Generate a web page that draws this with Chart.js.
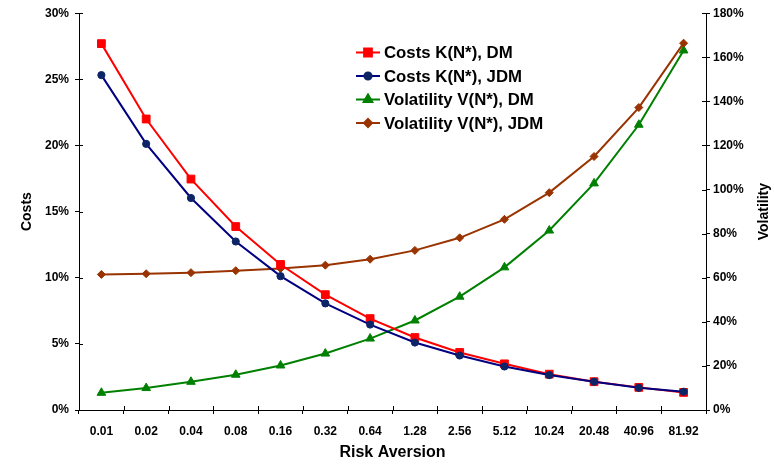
<!DOCTYPE html>
<html>
<head>
<meta charset="utf-8">
<script src="https://cdn.jsdelivr.net/npm/chart.js@4/dist/chart.umd.min.js"></script>
<style>
  html, body { margin: 0; padding: 0; background: #fff; }
  canvas { display: block; }
</style>
</head>
<body>
<canvas id="c" width="774" height="464"></canvas>
<script>
// Risk aversion levels (category axis)
const riskAversion = ['0.01', '0.02', '0.04', '0.08', '0.16', '0.32', '0.64', '1.28', '2.56', '5.12', '10.24', '20.48', '40.96', '81.92'];

// Costs K(N*) in percent (left axis)
const costsDM  = [27.7, 22.0, 17.46, 13.87, 11.0, 8.72, 6.91, 5.48, 4.35, 3.49, 2.71, 2.14, 1.71, 1.33];
const costsJDM = [25.32, 20.12, 16.03, 12.74, 10.12, 8.06, 6.46, 5.10, 4.12, 3.29, 2.64, 2.14, 1.68, 1.38];

// Volatility V(N*) in percent (right axis)
const volDM  = [7.8, 9.95, 12.8, 16.0, 20.2, 25.6, 32.4, 40.6, 51.4, 64.7, 81.4, 102.8, 129.4, 163.1];
const volJDM = [61.5, 61.8, 62.3, 63.2, 64.2, 65.7, 68.4, 72.4, 78.1, 86.5, 98.6, 115.0, 137.2, 166.4];

// Axis ranges
const costAxis = { min: 0, max: 30, step: 5 };
const volAxis  = { min: 0, max: 180, step: 20 };

// Series and axis names
const seriesNames = ['Costs K(N*), DM', 'Costs K(N*), JDM', 'Volatility V(N*), DM', 'Volatility V(N*), JDM'];
const axisTitles = { x: 'Risk Aversion', left: 'Costs', right: 'Volatility' };

const FONT = '"Liberation Sans", Arial, Helvetica, sans-serif';

const series = [
  { label: seriesNames[0], data: costsDM,  yAxisID: 'y',  borderColor: '#FF0000', backgroundColor: '#FF0000', pointStyle: 'rect',     pointRadius: 5.5, order: 2 },
  { label: seriesNames[1], data: costsJDM, yAxisID: 'y',  borderColor: '#000080', backgroundColor: '#0D2466', pointStyle: 'circle',   pointRadius: 3.6, order: 1 },
  { label: seriesNames[2], data: volDM,    yAxisID: 'y1', borderColor: '#008000', backgroundColor: '#008000', pointStyle: 'triangle', pointRadius: 5,   order: 4 },
  { label: seriesNames[3], data: volJDM,   yAxisID: 'y1', borderColor: '#993300', backgroundColor: '#993300', pointStyle: 'rectRot',  pointRadius: 4,   order: 3 }
];

const datasets = series.map(s => ({
  label: s.label,
  data: s.data,
  yAxisID: s.yAxisID,
  order: s.order,
  borderColor: s.borderColor,
  backgroundColor: s.backgroundColor,
  pointBackgroundColor: s.backgroundColor,
  pointBorderColor: s.backgroundColor,
  pointBorderWidth: 1,
  pointStyle: s.pointStyle,
  pointRadius: s.pointRadius,
  borderWidth: 2,
  tension: 0,
  fill: false
}));

// Marker drawing shared by the legend
function marker(ctx, style, x, y, r, color) {
  ctx.save();
  ctx.fillStyle = color;
  ctx.strokeStyle = color;
  ctx.beginPath();
  if (style === 'rect') {
    const s = r * Math.SQRT1_2;
    ctx.rect(x - s, y - s, 2 * s, 2 * s);
  } else if (style === 'circle') {
    ctx.arc(x, y, r, 0, Math.PI * 2);
  } else if (style === 'triangle') {
    for (let k = 0; k < 3; k++) {
      const a = k * 2 * Math.PI / 3;
      const px = x + Math.sin(a) * r, py = y - Math.cos(a) * r;
      k ? ctx.lineTo(px, py) : ctx.moveTo(px, py);
    }
    ctx.closePath();
  } else if (style === 'rectRot') {
    ctx.moveTo(x, y - r); ctx.lineTo(x + r, y); ctx.lineTo(x, y + r); ctx.lineTo(x - r, y);
    ctx.closePath();
  }
  ctx.fill();
  ctx.stroke();
  ctx.restore();
}

// Legend inside the plot area, upper right
const insideLegend = {
  id: 'insideLegend',
  afterDatasetsDraw(chart) {
    const ctx = chart.ctx;
    const x0 = 356, x1 = 380, tx = 384;
    const rows = [52.5, 76, 99.5, 123];
    ctx.save();
    ctx.font = 'bold 16.8px ' + FONT;
    ctx.textBaseline = 'middle';
    ctx.textAlign = 'left';
    series.forEach((s, i) => {
      const y = rows[i];
      ctx.strokeStyle = s.borderColor;
      ctx.lineWidth = 2;
      ctx.beginPath();
      ctx.moveTo(x0, y);
      ctx.lineTo(x1, y);
      ctx.stroke();
      marker(ctx, s.pointStyle, (x0 + x1) / 2, y, s.pointRadius, s.backgroundColor);
      ctx.fillStyle = '#000';
      ctx.fillText(s.label, tx, y + 1);
    });
    ctx.restore();
  }
};

// Tick marks that cross into the plot area, and the right axis title read bottom-to-top
const innerTicks = {
  id: 'innerTicks',
  afterDraw(chart) {
    const ctx = chart.ctx;
    const len = 4;
    ctx.save();
    ctx.strokeStyle = '#000';
    ctx.lineWidth = 1;
    ctx.beginPath();
    const ys = chart.scales.y, y1 = chart.scales.y1, xs = chart.scales.x;
    ys.ticks.forEach(t => {
      const py = Math.round(ys.getPixelForValue(t.value)) + 0.5;
      ctx.moveTo(ys.right, py); ctx.lineTo(ys.right + len, py);
    });
    y1.ticks.forEach(t => {
      const py = Math.round(y1.getPixelForValue(t.value)) + 0.5;
      ctx.moveTo(y1.left - len, py); ctx.lineTo(y1.left, py);
    });
    const n = riskAversion.length;
    for (let i = 1; i < n; i++) {
      const px = Math.round((xs.getPixelForValue(i - 1) + xs.getPixelForValue(i)) / 2) + 0.5;
      ctx.moveTo(px, xs.top - len); ctx.lineTo(px, xs.top);
    }
    ctx.stroke();

    const area = chart.chartArea;
    ctx.translate(764, (area.top + area.bottom) / 2);
    ctx.rotate(-Math.PI / 2);
    ctx.font = 'bold 14px ' + FONT;
    ctx.fillStyle = '#000';
    ctx.textAlign = 'center';
    ctx.textBaseline = 'middle';
    ctx.fillText(axisTitles.right, 0, 0);
    ctx.restore();
  }
};

const tickFont = { family: FONT, size: 12, weight: 'bold' };

new Chart(document.getElementById('c'), {
  type: 'line',
  data: { labels: riskAversion, datasets },
  options: {
    responsive: false,
    animation: false,
    devicePixelRatio: 1,
    layout: { padding: { top: 12, left: 0, right: 0, bottom: 0 } },
    plugins: { legend: { display: false }, tooltip: { enabled: false } },
    scales: {
      x: {
        type: 'category',
        offset: true,
        grid: { display: true, offset: true, drawOnChartArea: false, drawTicks: true, tickLength: 4, color: '#000' },
        border: { display: true, color: '#000', width: 1 },
        ticks: { color: '#000', font: tickFont, padding: 10, maxRotation: 0, autoSkip: false },
        title: { display: true, text: axisTitles.x, color: '#000', font: { family: FONT, size: 16, weight: 'bold' }, padding: { top: 0, bottom: 1.5 } },
        afterFit(scale) { scale.height = 54; }
      },
      y: {
        position: 'left',
        min: costAxis.min, max: costAxis.max,
        grid: { display: true, drawOnChartArea: false, drawTicks: true, tickLength: 4, color: '#000' },
        border: { display: true, color: '#000', width: 1 },
        ticks: { stepSize: costAxis.step, color: '#000', font: tickFont, padding: 6, callback: v => v + '%' },
        title: { display: true, text: axisTitles.left, color: '#000', font: { family: FONT, size: 14, weight: 'bold' }, padding: { top: 19, bottom: 0 } },
        afterFit(scale) { scale.width = 79; }
      },
      y1: {
        position: 'right',
        min: volAxis.min, max: volAxis.max,
        grid: { display: true, drawOnChartArea: false, drawTicks: true, tickLength: 4, color: '#000' },
        border: { display: true, color: '#000', width: 1 },
        ticks: { stepSize: volAxis.step, color: '#000', font: tickFont, padding: 3, callback: v => v + '%' },
        title: { display: false },
        afterFit(scale) { scale.width = 68; }
      }
    }
  },
  plugins: [insideLegend, innerTicks]
});
</script>
</body>
</html>
